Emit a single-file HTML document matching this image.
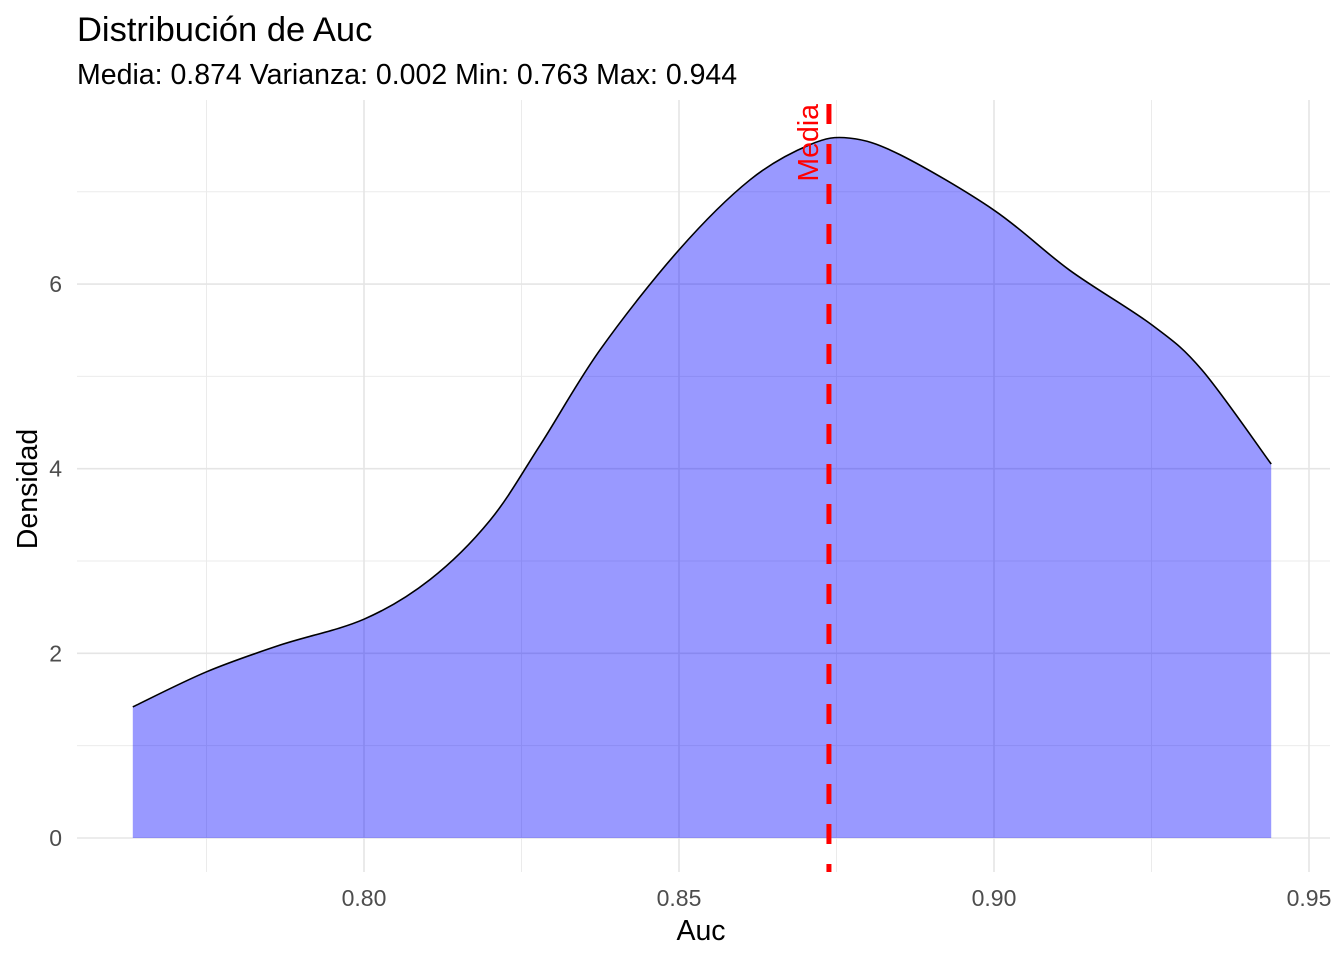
<!DOCTYPE html>
<html><head><meta charset="utf-8"><style>
body{margin:0;background:#fff;}
svg{display:block;font-family:"Liberation Sans",Arial,sans-serif;}
</style></head><body>
<svg id="chart" width="1344" height="960" viewBox="0 0 1344 960">
<text x="77" y="41" font-size="34.5" fill="#000">Distribución de Auc</text>
<text x="77" y="84" font-size="28.5" fill="#000">Media: 0.874 Varianza: 0.002 Min: 0.763 Max: 0.944</text>
<g id="grid"></g>
<g id="marks"></g>
<g id="axes"></g>
<text x="701" y="940" font-size="28.5" text-anchor="middle">Auc</text>
<text transform="translate(37,489) rotate(-90)" font-size="28.5" text-anchor="middle">Densidad</text>
</svg>
<script>
const densX=[0.7633,0.775,0.7867,0.80,0.8105,0.82,0.828,0.8375,0.85,0.8613,0.8708,0.8771,0.8851,0.90,0.912,0.925,0.933,0.944];
const densY=[1.42,1.80,2.09,2.37,2.80,3.44,4.26,5.29,6.37,7.13,7.51,7.58,7.40,6.80,6.15,5.56,5.07,4.05];
const meanValue=[0.8738];
const xTicks=[0.80,0.85,0.90,0.95];
const xTickLabels=["0.80","0.85","0.90","0.95"];
const xMinor=[0.775,0.825,0.875,0.925];
const yTicks=[0,2,4,6];
const yTickLabels=["0","2","4","6"];
const yMinor=[1,3,5,7];

const NS="http://www.w3.org/2000/svg";
const X=v=>364+(v-0.8)*6300;
const Y=v=>838-v*92.33;
const PL=77,PR=1330,PT=100,PB=872;
function mk(tag,attrs,parent){const e=document.createElementNS(NS,tag);for(const k in attrs)e.setAttribute(k,attrs[k]);parent.appendChild(e);return e;}
const grid=document.getElementById('grid'),marks=document.getElementById('marks'),axes=document.getElementById('axes');
xMinor.forEach(v=>{const l=mk('line',{x1:X(v),x2:X(v),y1:PT,y2:PB,stroke:'#ebebeb','stroke-width':1},grid);

});
yMinor.forEach(v=>{const l=mk('line',{x1:PL,x2:PR,y1:Y(v),y2:Y(v),stroke:'#ebebeb','stroke-width':1},grid);

});
xTicks.forEach((v,i)=>{const l=mk('line',{x1:X(v),x2:X(v),y1:PT,y2:PB,stroke:'#e5e5e5','stroke-width':1.6},grid);


const t=mk('text',{x:X(v),y:906,'font-size':23,fill:'#4d4d4d','text-anchor':'middle'},axes);t.textContent=xTickLabels[i];

});
yTicks.forEach((v,i)=>{const l=mk('line',{x1:PL,x2:PR,y1:Y(v),y2:Y(v),stroke:'#e5e5e5','stroke-width':1.6},grid);


const t=mk('text',{x:62,y:Y(v)+8,'font-size':23,fill:'#4d4d4d','text-anchor':'end'},axes);t.textContent=yTickLabels[i];

});
const pts=densX.map((v,i)=>[X(v),Y(densY[i])]);
let d='M'+pts[0][0]+','+pts[0][1];
for(let i=0;i<pts.length-1;i++){const p0=pts[Math.max(i-1,0)],p1=pts[i],p2=pts[i+1],p3=pts[Math.min(i+2,pts.length-1)];
d+=` C${p1[0]+(p2[0]-p0[0])/6},${p1[1]+(p2[1]-p0[1])/6} ${p2[0]-(p3[0]-p1[0])/6},${p2[1]-(p3[1]-p1[1])/6} ${p2[0]},${p2[1]}`;}
const last=pts[pts.length-1];
const area=mk('path',{d:d+` L${last[0]},${Y(0)} L${pts[0][0]},${Y(0)} Z`,fill:'#0000ff','fill-opacity':0.4,stroke:'none'},marks);


const line=mk('path',{d:d,fill:'none',stroke:'#000','stroke-width':1.6},marks);


const mx=X(meanValue[0]);
const ml=mk('line',{x1:mx,x2:mx,y1:PT+4,y2:PB,stroke:'#ff0000','stroke-width':5,'stroke-dasharray':'20,20'},marks);


const mt=mk('text',{transform:`translate(${mx-11},104) rotate(-90)`,'font-size':28.5,fill:'#ff0000','text-anchor':'end'},marks);mt.textContent='Media';


</script>
</body></html>
